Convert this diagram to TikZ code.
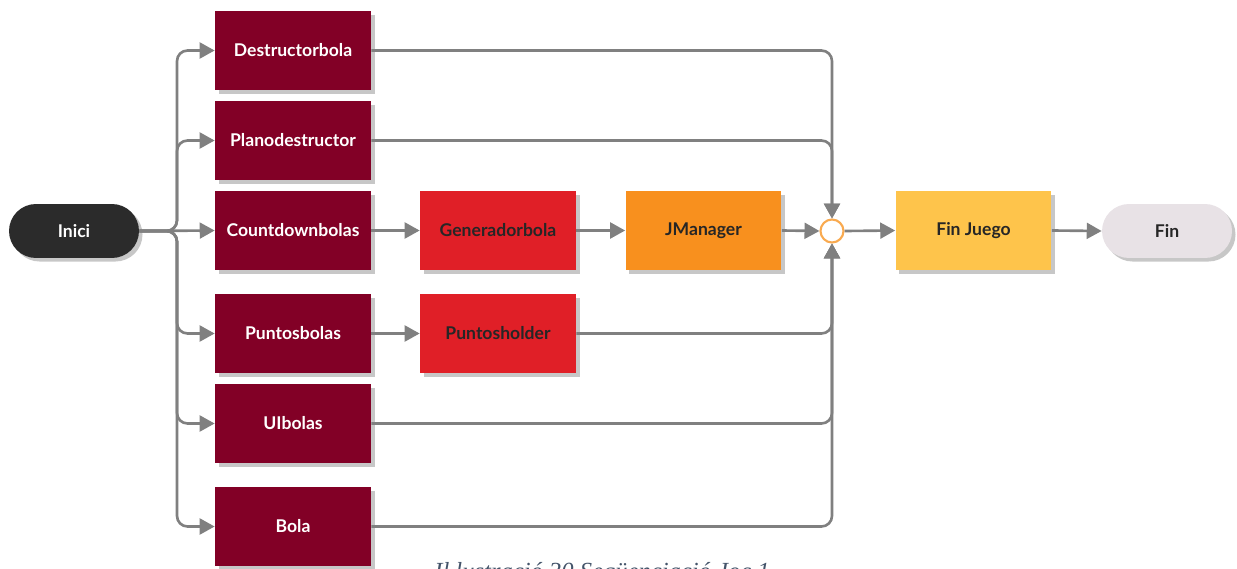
\documentclass[tikz,border=0pt]{standalone}
\usepackage{fontspec}
\setmainfont{Lato}
\newfontfamily\capfont{Liberation Serif}
\usetikzlibrary{arrows.meta, shadows}
\definecolor{granate}{HTML}{820026}
\definecolor{negro}{HTML}{2B2B2B}
\definecolor{rojo}{HTML}{E01F27}
\definecolor{naranja}{HTML}{F8901E}
\definecolor{amarillo}{HTML}{FEC44B}
\definecolor{gris}{HTML}{E8E2E6}
\definecolor{linea}{HTML}{808080}
\definecolor{aro}{HTML}{F9AA50}
\definecolor{pie}{HTML}{44546A}
\tikzset{ %estilos de las cajas
    caja/.style={rectangle, minimum width=3.12cm, minimum height=1.58cm, inner sep=0pt,
        font=\bfseries\fontsize{10}{12}\selectfont,
        drop shadow={shadow xshift=2pt, shadow yshift=-2pt, opacity=0.22, fill=black}},
    oscura/.style={caja, fill=granate, text=white},
    clara/.style={caja, text=black!85},
    pastilla/.style={caja, rounded corners=0.54cm, minimum width=2.6cm, minimum height=1.08cm},
    flecha/.style={draw=linea, line width=1.5pt, rounded corners=6pt,
        -{Triangle[length=8.5pt, width=9pt]}},
}
\begin{document}
\begin{tikzpicture}[x=0.02cm, y=-0.02cm]
	\useasboundingbox (0,0) rectangle (1237,568);
	\node[pastilla, fill=negro, text=white] (inici) at (74,231) {Inici};
	\foreach \n/\t/\y in {dest/Destructorbola/50.5, plano/Planodestructor/140.5,
		count/Countdownbolas/230.5, puntos/Puntosbolas/333.5, ui/UIbolas/423.5, bola/Bola/526.5}{
		\node[oscura] (\n) at (293,\y) {\t};
	}
	\node[clara, fill=rojo] (gen) at (498,230.5) {Generadorbola};
	\node[clara, fill=rojo] (holder) at (498,333.5) {Puntosholder};
	\node[clara, fill=naranja] (jman) at (703.5,230.5) {JManager};
	\node[circle, draw=aro, fill=white, line width=1.2pt, minimum size=0.46cm, inner sep=0pt] (junta) at (832,231) {};
	\node[clara, fill=amarillo] (finjuego) at (973.5,230.5) {Fin Juego};
	\node[pastilla, fill=gris, text=black!85] (fin) at (1167,231) {Fin};
	% ramas de entrada
	\draw[flecha] (inici.east) -- (count.west);
	\foreach \n in {dest,plano,puntos,ui,bola}{
		\draw[flecha] (inici.east) -- (177,231) -- (177,0 |- \n.west) -- (\n.west);
	}
	% cadena central
	\draw[flecha] (count.east) -- (gen.west);
	\draw[flecha] (gen.east) -- (jman.west);
	\draw[flecha] (jman.east) -- (junta.west);
	\draw[flecha] (puntos.east) -- (holder.west);
	% ramas de salida
	\foreach \n in {dest,plano}{
		\draw[flecha] (\n.east) -- (832,0 |- \n.east) -- (junta.north);
	}
	\foreach \n in {holder,ui,bola}{
		\draw[flecha] (\n.east) -- (832,0 |- \n.east) -- (junta.south);
	}
	\draw[flecha] (junta.east) -- (finjuego.west);
	\draw[flecha] (finjuego.east) -- (fin.west);
	\node[font=\capfont\itshape\fontsize{14}{16}\selectfont, text=pie, anchor=base] (pie) at (602,579) {Il·lustració 30 Seqüenciació Joc 1};
\end{tikzpicture}
\end{document}
